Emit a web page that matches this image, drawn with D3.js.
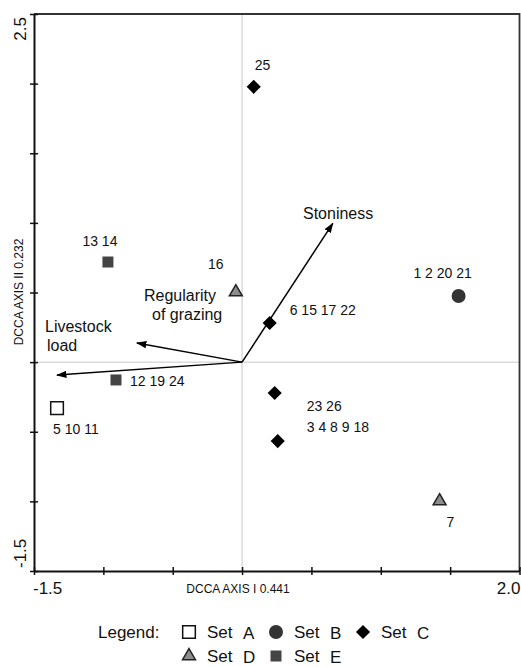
<!DOCTYPE html>
<head>
<meta charset="utf-8">
<style>
  body { margin: 0; background: #fff; }
  text { font-family: "Liberation Sans", Arial, sans-serif; fill: #111; }
</style>
</head>
<body>
<svg id="chart" width="521" height="667"></svg>

<script src="https://d3js.org/d3.v7.min.js"></script>
<script>
    // tick values for both axes
    let xTicks = [-1.5, -1.0, -0.5, 0.0, 0.5, 1.0, 1.5, 2.0]
    let yTicks = [-1.5, -1.0, -0.5, 0.0, 0.5, 1.0, 1.5, 2.0, 2.5]
    let xTickLabels = ["-1.5", "2.0"]
    let yTickLabels = ["-1.5", "2.5"]

    // sample groups (site numbers)
    let siteSets = ["A", "B", "C", "C", "C", "C", "D", "D", "E", "E"]
    let siteLabels = ["5 10 11", "1 2 20 21", "25", "6 15 17 22", "23 26", "3 4 8 9 18", "16", "7", "13 14", "12 19 24"]
    let siteX = [-1.334, 1.561, 0.084, 0.199, 0.235, 0.257, -0.045, 1.424, -0.967, -0.909]
    let siteY = [-0.33, 0.475, 1.977, 0.281, -0.222, -0.567, 0.503, -0.998, 0.719, -0.128]

    // environmental vectors
    let envX = [0.654, -0.758, -1.334]
    let envY = [0.997, 0.137, -0.093]

    let legendSets = ["A", "B", "C", "D", "E"]

    // --- layout stuff ---
    let labelOffsets = [[-4, 26, "start"], [-16, -18, "middle"], [1, -17, "start"], [20, -8, "start"],
                        [32, 18, "start"], [29, -9, "start"], [-20, -23, "middle"], [7, 26, "start"],
                        [-8, -16, "middle"], [14, 6, "start"]]
    let envText = [
        {lines: ["Stoniness"], x: 303, y: 219},
        {lines: ["Livestock", "load"], x: 45, y: 332},
        {lines: ["Regularity", "of grazing"], x: 144, y: 301, dx2: 8}
    ]

    let svg = d3.select("#chart")
    let pLeft = 34, pRight = 519.5, pTop = 14, pBottom = 571

    let xScale = d3.scaleLinear().domain([-1.5, 2.0]).range([pLeft, pRight])
    let yScale = d3.scaleLinear().domain([-1.5, 2.5]).range([pBottom, pTop])

    // zero lines
    svg.append("line")
        .attr("x1", xScale(0)).attr("x2", xScale(0))
        .attr("y1", pTop).attr("y2", pBottom)
        .attr("stroke", "#c8c8c8").attr("stroke-width", 1)
    svg.append("line")
        .attr("x1", pLeft).attr("x2", pRight)
        .attr("y1", yScale(0)).attr("y2", yScale(0))
        .attr("stroke", "#c8c8c8").attr("stroke-width", 1)

    // frame: top + right
    svg.append("path")
        .attr("d", `M${pLeft},${pTop}H${pRight}V${pBottom}`)
        .attr("fill", "none").attr("stroke", "#333").attr("stroke-width", 1.8)

    let xAxis = svg.append("g")
        .attr("transform", `translate(0,${pBottom})`)
        .call(d3.axisBottom(xScale).tickValues(xTicks).tickSize(4).tickSizeOuter(0).tickFormat(""))
    let yAxis = svg.append("g")
        .attr("transform", `translate(${pLeft},0)`)
        .call(d3.axisLeft(yScale).tickValues(yTicks).tickSize(4).tickSizeOuter(0).tickFormat(""))

    xAxis.selectAll(".tick line").attr("y1", -4).attr("stroke", "#111").attr("stroke-width", 1.5)
    yAxis.selectAll(".tick line").attr("x1", 4).attr("stroke", "#111").attr("stroke-width", 1.5)
    xAxis.select(".domain").attr("stroke", "#111").attr("stroke-width", 2)
    yAxis.select(".domain").attr("stroke", "#111").attr("stroke-width", 2)

    // end tick labels
    svg.selectAll(".xlab")
        .data(xTickLabels)
        .enter()
        .append("text")
        .attr("x", (d, i) => xScale(+d) + (i == 0 ? -1 : 1))
        .attr("y", 594)
        .attr("text-anchor", (d, i) => i == 0 ? "start" : "end")
        .attr("font-size", 17)
        .text(d => d)
    svg.selectAll(".ylab")
        .data(yTickLabels)
        .enter()
        .append("text")
        .attr("transform", (d, i) => `translate(26,${yScale(+d) + (i == 0 ? -3 : 3)}) rotate(-90)`)
        .attr("text-anchor", (d, i) => i == 0 ? "start" : "end")
        .attr("font-size", 17)
        .text(d => d)

    // axis titles
    svg.append("text")
        .attr("x", 238).attr("y", 593)
        .attr("text-anchor", "middle")
        .attr("font-size", 12)
        .text("DCCA AXIS I 0.441")
    svg.append("text")
        .attr("transform", "translate(23,292) rotate(-90)")
        .attr("text-anchor", "middle")
        .attr("font-size", 12)
        .text("DCCA AXIS II 0.232")

    // arrows
    svg.append("defs").append("marker")
        .attr("id", "head")
        .attr("viewBox", "0 0 10 10")
        .attr("refX", 9).attr("refY", 5)
        .attr("markerWidth", 7).attr("markerHeight", 7)
        .attr("markerUnits", "strokeWidth")
        .attr("orient", "auto")
        .append("path")
        .attr("d", "M0,1.5L10,5L0,8.5Z")
        .attr("fill", "#000")

    svg.selectAll(".env")
        .data(envX)
        .enter()
        .append("line")
        .attr("x1", xScale(0)).attr("y1", yScale(0))
        .attr("x2", d => xScale(d))
        .attr("y2", (d, i) => yScale(envY[i]))
        .attr("stroke", "#000").attr("stroke-width", 1.5)
        .attr("marker-end", "url(#head)")

    envText.forEach(t => {
        t.lines.forEach((ln, j) => {
            svg.append("text")
                .attr("x", t.x + (j > 0 ? (t.dx2 || 2) : 0))
                .attr("y", t.y + j * 19)
                .attr("font-size", 16)
                .text(ln)
        })
    })

    // symbols
    function symbolFor(set) {
        if (set == "A") return d3.symbol(d3.symbolSquare, 160)()
        if (set == "B") return d3.symbol(d3.symbolCircle, 154)()
        if (set == "C") return d3.symbol(d3.symbolSquare, 100)()
        if (set == "D") return d3.symbol(d3.symbolTriangle, 72)()
        return d3.symbol(d3.symbolSquare, 121)()
    }
    let fills = {A: "#fff", B: "#333", C: "#000", D: "#8c8c8c", E: "#444"}
    let strokes = {A: "#111", B: "none", C: "none", D: "#222", E: "none"}

    function drawSymbol(sel) {
        sel.attr("d", d => symbolFor(d.set))
            .attr("fill", d => fills[d.set])
            .attr("stroke", d => strokes[d.set])
            .attr("stroke-width", 1.5)
    }

    let sites = siteSets.map((s, i) => ({set: s, x: siteX[i], y: siteY[i], label: siteLabels[i], off: labelOffsets[i]}))

    svg.selectAll(".site")
        .data(sites)
        .enter()
        .append("path")
        .attr("class", "site")
        .attr("transform", d => `translate(${xScale(d.x)},${yScale(d.y)})` + (d.set == "C" ? " rotate(45)" : ""))
        .call(drawSymbol)

    svg.selectAll(".sitelab")
        .data(sites)
        .enter()
        .append("text")
        .attr("x", d => xScale(d.x) + d.off[0])
        .attr("y", d => yScale(d.y) + d.off[1])
        .attr("text-anchor", d => d.off[2])
        .attr("font-size", 14)
        .text(d => d.label)

    // legend (second row nudged up a little so it stays inside the page)
    svg.append("text")
        .attr("x", 98).attr("y", 638)
        .attr("font-size", 17)
        .text("Legend:")

    let legend = svg.selectAll(".leg")
        .data(legendSets.map(s => ({set: s})))
        .enter()
        .append("g")
        .attr("transform", (d, i) => `translate(${189 + (i % 3) * 87},${632 + Math.floor(i / 3) * 24})`)

    legend.append("path")
        .attr("transform", d => d.set == "C" ? "rotate(45)" : "")
        .call(drawSymbol)
    legend.append("text")
        .attr("x", 18).attr("y", 6)
        .attr("font-size", 17)
        .text("Set")
    legend.append("text")
        .attr("x", 54).attr("y", 7)
        .attr("font-size", 17)
        .text(d => d.set)
</script>
</body>
